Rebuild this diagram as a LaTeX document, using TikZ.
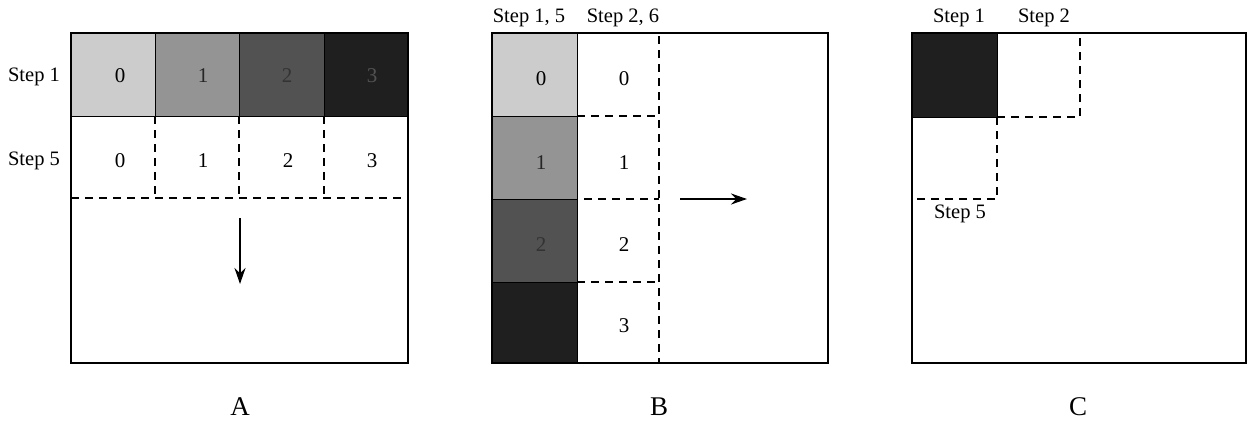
\documentclass[tikz,border=0pt]{standalone}
\usepackage{fontspec}
\setmainfont{Liberation Serif}
\usetikzlibrary{arrows.meta}
\definecolor{g0}{gray}{0.80}
\definecolor{g1}{gray}{0.58}
\definecolor{g2}{gray}{0.32}
\definecolor{g3}{gray}{0.12}
\begin{document}
\begin{tikzpicture}[x=1pt,y=-1pt,
  frame/.style={draw=black,line width=1.6pt,fill=none},
  cellbox/.style={draw=black,line width=0.9pt,inner sep=0pt,minimum width=#1,minimum height=83pt},
  num/.style={font=\fontsize{21}{25}\selectfont,inner sep=0pt},
  steplbl/.style={font=\fontsize{20.5}{24}\selectfont,inner sep=0pt},
  panel/.style={font=\fontsize{27}{30}\selectfont,inner sep=0pt},
  dsh/.style={draw=black,line width=1.2pt,dash pattern=on 8pt off 6pt},
  movearrow/.style={draw=black,line width=2.2pt,-{Stealth[length=16pt,width=11pt]}}]
\useasboundingbox (0,0) rectangle (1253,421);
\fill[white] (0,0) rectangle (1253,421);

% ---------------- Panel A ----------------
\node[cellbox=84pt,fill=g0] (a0) at (113,74.5) {};
\node[cellbox=84pt,fill=g1] (a1) at (197,74.5) {};
\node[cellbox=85pt,fill=g2] (a2) at (281.5,74.5) {};
\node[cellbox=84pt,fill=g3] (a3) at (366,74.5) {};
\node[num] (a0t) at (120,76) {0};
\node[num,text=black!85] (a1t) at (203,76) {1};
\node[num,text=black!80] (a2t) at (287,76) {2};
\node[num,text=g2] (a3t) at (372,76) {3};
\node[num] (b0t) at (120,161) {0};
\node[num] (b1t) at (203,161) {1};
\node[num] (b2t) at (288,161) {2};
\node[num] (b3t) at (372,161) {3};
\node[steplbl] (aS1) at (34,77) {Step 1};
\node[steplbl] (aS5) at (34,161) {Step 5};
\coordinate (ad1) at (155,116);
\coordinate (ad2) at (239,116);
\coordinate (ad3) at (324,116);
\draw[dsh] (ad1) -- (155,198);
\draw[dsh] (ad2) -- (239,198);
\draw[dsh] (ad3) -- (324,198);
\draw[dsh] (71,198) -- (408,198);
\node[frame,minimum width=337pt,minimum height=330pt,inner sep=0pt] (boxA) at (239.5,198) {};
\coordinate (aArS) at (240,218);
\coordinate (aArE) at (240,284);
\draw[movearrow] (aArS) -- (aArE);
\node[panel] (lA) at (240,407) {A};

% ---------------- Panel B ----------------
\node[cellbox=85pt,fill=g0] (c0) at (534.5,74.5) {};
\node[cellbox=85pt,fill=g1] (c1) at (534.5,157.5) {};
\node[cellbox=85pt,fill=g2] (c2) at (534.5,240.5) {};
\node[cellbox=85pt,fill=g3,minimum height=81pt] (c3) at (534.5,322.5) {};
\node[num] (c0t) at (541,79) {0};
\node[num,text=black!85] (c1t) at (541,163) {1};
\node[num,text=black!80] (c2t) at (541,245) {2};
\node[num] (d0t) at (624,79) {0};
\node[num] (d1t) at (624,163) {1};
\node[num] (d2t) at (624,245) {2};
\node[num] (d3t) at (624,326) {3};
\draw[dsh] (659,36) -- (659,363);
\draw[dsh] (577,116) -- (659,116);
\draw[dsh] (584,199) -- (659,199);
\draw[dsh] (577,282) -- (659,282);
\node[frame,minimum width=336pt,minimum height=330pt,inner sep=0pt] (boxB) at (660,198) {};
\coordinate (bArS) at (680,199);
\coordinate (bArE) at (747,199);
\draw[movearrow] (bArS) -- (bArE);
\node[steplbl] (bS15) at (529,18) {Step 1, 5};
\node[steplbl] (bS26) at (623,18) {Step 2, 6};
\node[panel] (lB) at (659,407) {B};

% ---------------- Panel C ----------------
\node[cellbox=85pt,fill=g3,minimum height=84pt] (e0) at (954.5,75) {};
\draw[dsh] (997,117) -- (1080,117) -- (1080,36);
\draw[dsh] (997,117) -- (997,199) -- (912,199);
\node[frame,minimum width=334pt,minimum height=330pt,inner sep=0pt] (boxC) at (1079,198) {};
\node[steplbl] (cS1) at (959,18) {Step 1};
\node[steplbl] (cS2) at (1044,18) {Step 2};
\node[steplbl] (cS5) at (960,214) {Step 5};
\node[panel] (lC) at (1078,407) {C};
\end{tikzpicture}
\end{document}
